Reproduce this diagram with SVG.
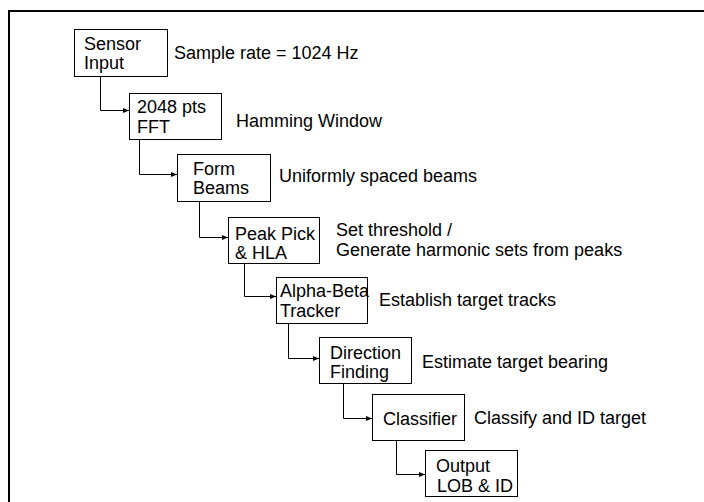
<svg xmlns="http://www.w3.org/2000/svg" width="704" height="502" viewBox="0 0 704 502">
  <style>
    .box { fill: #ffffff; stroke: #000000; stroke-width: 1; }
    .t { font-family: "Liberation Sans", Arial, sans-serif; font-size: 18px; fill: #000000; }
    .wire { fill: none; stroke: #000000; stroke-width: 1; marker-end: url(#arrow); }
  </style>
  <defs>
    <marker id="arrow" markerUnits="userSpaceOnUse" markerWidth="7" markerHeight="6" refX="6" refY="3" orient="auto">
      <path d="M0,0.5 L6,3 L0,5.5 Z" fill="#000000"/>
    </marker>
  </defs>

  <rect width="704" height="502" fill="#ffffff"/>
  <!-- page frame (top and left edges) -->
  <path d="M9,502 V11 H704" fill="none" stroke="#000000" stroke-width="2"/>

  <g id="connectors">
    <path class="wire" d="M100.5,76 V110.5 H129"/>
    <path class="wire" d="M139.5,139 V174.5 H177"/>
    <path class="wire" d="M199.5,201 V237.5 H228"/>
    <path class="wire" d="M244.5,263 V296.5 H276"/>
    <path class="wire" d="M288.5,323 V358.5 H319"/>
    <path class="wire" d="M343.5,383 V418.5 H372"/>
    <path class="wire" d="M396.5,440 V474.5 H425"/>
  </g>

  <g id="sensor-input">
    <rect class="box" x="74.5" y="29.5" width="93" height="47"/>
    <text class="t" x="84" y="50">Sensor</text>
    <text class="t" x="84" y="69">Input</text>
    <text class="t" x="174" y="59">Sample rate = 1024 Hz</text>
  </g>

  <g id="fft">
    <rect class="box" x="129.5" y="93.5" width="92" height="46"/>
    <text class="t" x="137" y="113">2048 pts</text>
    <text class="t" x="137" y="133">FFT</text>
    <text class="t" x="236" y="127">Hamming Window</text>
  </g>

  <g id="form-beams">
    <rect class="box" x="177.5" y="154.5" width="93" height="47"/>
    <text class="t" x="193" y="175">Form</text>
    <text class="t" x="193" y="194">Beams</text>
    <text class="t" x="279" y="182">Uniformly spaced beams</text>
  </g>

  <g id="peak-pick">
    <rect class="box" x="228.5" y="217.5" width="91" height="46"/>
    <text class="t" x="235" y="240">Peak Pick</text>
    <text class="t" x="235" y="259">&amp; HLA</text>
    <text class="t" x="336" y="236">Set threshold /</text>
    <text class="t" x="336" y="256">Generate harmonic sets from peaks</text>
  </g>

  <g id="alpha-beta">
    <rect class="box" x="276.5" y="277.5" width="91" height="46"/>
    <text class="t" x="280" y="297">Alpha-Beta</text>
    <text class="t" x="280" y="317">Tracker</text>
    <text class="t" x="379" y="306">Establish target tracks</text>
  </g>

  <g id="direction-finding">
    <rect class="box" x="319.5" y="337.5" width="92" height="46"/>
    <text class="t" x="330" y="359">Direction</text>
    <text class="t" x="330" y="378">Finding</text>
    <text class="t" x="422" y="368">Estimate target bearing</text>
  </g>

  <g id="classifier">
    <rect class="box" x="372.5" y="394.5" width="92" height="46"/>
    <text class="t" x="383" y="425">Classifier</text>
    <text class="t" x="474" y="424">Classify and ID target</text>
  </g>

  <g id="output">
    <rect class="box" x="425.5" y="450.5" width="92" height="46"/>
    <text class="t" x="436" y="472">Output</text>
    <text class="t" x="437" y="492">LOB &amp; ID</text>
  </g>
</svg>
